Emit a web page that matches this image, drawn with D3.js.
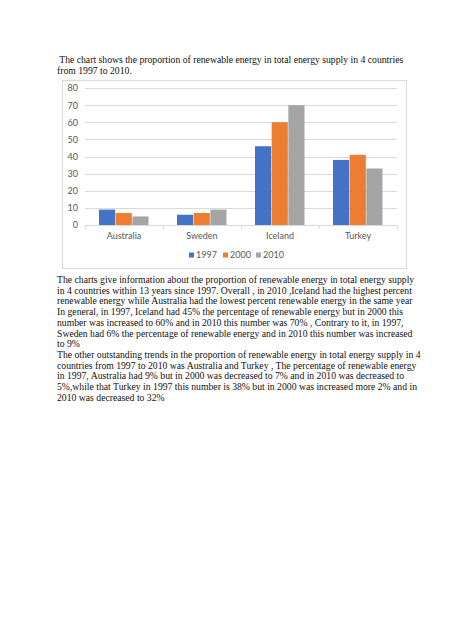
<!DOCTYPE html>
<html lang="en">
<head>
  <meta charset="utf-8">
  <title>Renewable energy</title>
  <script src="https://d3js.org/d3.v7.min.js"></script>
  <style>
    body { margin: 0; background: #fff; }
    .serif { font-family: "Liberation Serif", "Times New Roman", serif; font-size: 9.7px; fill: #111; }
    .chart text { font-family: Lato, "Liberation Sans", sans-serif; font-size: 9px; fill: #595959; }
  </style>
</head>
<body>
  <div id="page"></div>

  <script>
    "use strict"

    // dados do grafico
    var countries = ["Australia", "Sweden", "Iceland", "Turkey"];
    var years = ["1997", "2000", "2010"];
    var v1997 = [9, 6, 46, 38];
    var v2000 = [7, 7, 60, 41];
    var v2010 = [5, 9, 70, 33];
    var yTicks = [0, 10, 20, 30, 40, 50, 60, 70, 80];
    var colors = ["#4472C4", "#ED7D31", "#A5A5A5"];

    var titleLines = [
      " The chart shows the proportion of renewable energy in total energy supply in 4 countries",
      "from 1997 to 2010."
    ];
    var bodyLines = [
      "The charts give information about the proportion of renewable energy in total energy supply",
      "in 4 countries within 13 years since 1997. Overall , in 2010 ,Iceland had the highest percent",
      "renewable energy while Australia had the lowest percent renewable energy in the same year",
      "In general, in 1997, Iceland had 45% the percentage of renewable energy but in 2000 this",
      "number was increased to 60% and in 2010 this number was 70% , Contrary to it, in 1997,",
      "Sweden had 6% the percentage of renewable energy and in 2010 this number was increased",
      "to 9%",
      "The other outstanding trends in the proportion of renewable energy in total energy supply in 4",
      "countries from 1997 to 2010 was Australia and Turkey , The percentage of renewable energy",
      "in 1997, Australia had 9% but in 2000 was decreased to 7% and in 2010 was decreased to",
      "5%,while that Turkey in 1997 this number is 38% but in 2000 was increased more 2% and in",
      "2010 was decreased to 32%"
    ];

    var series = [v1997, v2000, v2010];
    var dados = countries.map(function(c, i) {
      return { pais: c, valores: years.map(function(a, j) { return { ano: a, v: series[j][i] }; }) };
    });

    var svg = d3.select('#page').append('svg')
      .attr('width', 474)
      .attr('height', 632);

    // texto de cima
    svg.selectAll('text.titulo')
      .data(titleLines)
      .enter().append('text')
        .attr('class', 'serif titulo')
        .attr('x', 57)
        .attr('y', (d, i) => 63 + i * 10.7)
        .attr('xml:space', 'preserve')
        .text(d => d);

    // moldura do grafico
    svg.append('rect')
      .attr('x', 62.5).attr('y', 80.5)
      .attr('width', 344).attr('height', 188)
      .attr('fill', '#fff')
      .attr('stroke', '#d9d9d9');

    var margin = {top: 88, left: 85},
        larguraVis = 312,
        alturaVis = 137;

    var grafico = svg.append('g')
      .attr('class', 'chart')
      .attr('transform', 'translate(' + margin.left + ',' + margin.top + ')');

    var x0 = d3.scaleBand().domain(countries).range([0, larguraVis]);
    var x1 = d3.scaleBand().domain(years).range([14, x0.bandwidth() - 14]);
    var y = d3.scaleLinear().domain([0, 80]).range([alturaVis, 0]);

    // grade
    grafico.selectAll('line.grade')
      .data(yTicks.filter(t => t > 0))
      .enter().append('line')
        .attr('x1', 0).attr('x2', larguraVis)
        .attr('y1', d => Math.round(y(d)) + 0.5)
        .attr('y2', d => Math.round(y(d)) + 0.5)
        .attr('stroke', '#d9d9d9');

    // eixo y
    var eixoY = grafico.append('g')
      .call(d3.axisLeft(y).tickValues(yTicks).tickSize(0).tickPadding(7));
    eixoY.select('.domain').remove();
    eixoY.selectAll('text').style('font-size', '9px').attr('fill', '#595959');

    // barras
    var grupos = grafico.selectAll('g.pais')
      .data(dados)
      .enter().append('g')
        .attr('transform', d => 'translate(' + x0(d.pais) + ',0)');

    grupos.selectAll('rect')
      .data(d => d.valores)
      .enter().append('rect')
        .attr('x', d => x1(d.ano))
        .attr('width', x1.bandwidth() - 0.5)
        .attr('y', d => y(d.v))
        .attr('height', d => alturaVis - y(d.v))
        .attr('fill', (d, i) => colors[i]);

    // eixo x
    var eixoX = grafico.append('g')
      .attr('transform', 'translate(0,' + alturaVis + ')')
      .call(d3.axisBottom(x0).tickSize(0).tickPadding(8));
    eixoX.select('.domain').attr('stroke', '#d9d9d9');
    eixoX.selectAll('text').style('font-size', '9px').attr('fill', '#595959');

    // tiques entre categorias
    grafico.selectAll('line.tique')
      .data(countries.concat(['fim']))
      .enter().append('line')
        .attr('x1', (d, i) => Math.round(i * x0.step()) + 0.5)
        .attr('x2', (d, i) => Math.round(i * x0.step()) + 0.5)
        .attr('y1', alturaVis).attr('y2', alturaVis + 4)
        .attr('stroke', '#d9d9d9');

    // legenda
    var legX = [189, 223, 256];
    var legenda = svg.append('g').attr('class', 'chart')
      .selectAll('g')
      .data(years)
      .enter().append('g')
        .attr('transform', (d, i) => 'translate(' + legX[i] + ',255)');
    legenda.append('rect')
      .attr('x', 0).attr('y', -2.5)
      .attr('width', 5).attr('height', 5)
      .attr('fill', (d, i) => colors[i]);
    legenda.append('text')
      .attr('x', 7).attr('dy', '0.35em')
      .text(d => d);

    // texto de baixo
    svg.selectAll('text.corpo')
      .data(bodyLines)
      .enter().append('text')
        .attr('class', 'serif corpo')
        .attr('x', 57)
        .attr('y', (d, i) => 283 + i * 10.7)
        .text(d => d);
  </script>
</body>
</html>
